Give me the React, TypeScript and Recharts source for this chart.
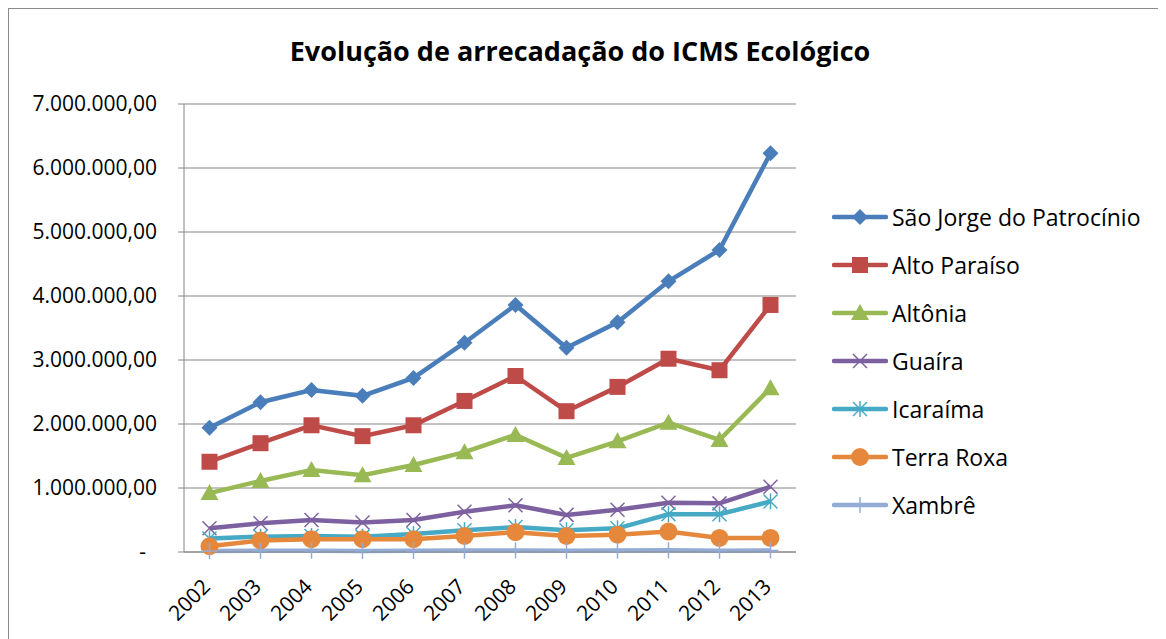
import React from 'react';
import { LineChart, Line, XAxis, YAxis, CartesianGrid } from 'recharts';

const years = ['2002', '2003', '2004', '2005', '2006', '2007', '2008', '2009', '2010', '2011', '2012', '2013'];

const saoJorge = [1940000, 2340000, 2530000, 2440000, 2720000, 3270000, 3860000, 3190000, 3590000, 4230000, 4720000, 6230000];
const altoParaiso = [1410000, 1700000, 1980000, 1810000, 1980000, 2360000, 2750000, 2200000, 2580000, 3020000, 2840000, 3860000];
const altonia = [920000, 1110000, 1280000, 1200000, 1360000, 1560000, 1830000, 1470000, 1730000, 2020000, 1750000, 2560000];
const guaira = [370000, 450000, 500000, 460000, 500000, 630000, 730000, 580000, 660000, 770000, 760000, 1020000];
const icaraima = [210000, 240000, 250000, 240000, 280000, 340000, 390000, 340000, 370000, 590000, 590000, 790000];
const terraRoxa = [90000, 180000, 200000, 200000, 200000, 250000, 310000, 250000, 270000, 320000, 220000, 220000];
const xambre = [15000, 18000, 20000, 17000, 18000, 22000, 25000, 20000, 22000, 26000, 20000, 24000];

const yTicks = [0, 1000000, 2000000, 3000000, 4000000, 5000000, 6000000, 7000000];
const boundaryTicks = [0, 1, 2, 3, 4, 5, 6, 7, 8, 9, 10, 11, 12];

type MarkerKind = 'diamond' | 'square' | 'triangle' | 'x' | 'star' | 'circle' | 'plus';

const series: { key: string; name: string; values: number[]; color: string; marker: MarkerKind }[] = [
  { key: 'saoJorge', name: 'São Jorge do Patrocínio', values: saoJorge, color: '#4A7EBB', marker: 'diamond' },
  { key: 'altoParaiso', name: 'Alto Paraíso', values: altoParaiso, color: '#BE4B48', marker: 'square' },
  { key: 'altonia', name: 'Altônia', values: altonia, color: '#98B954', marker: 'triangle' },
  { key: 'guaira', name: 'Guaíra', values: guaira, color: '#7D60A0', marker: 'x' },
  { key: 'icaraima', name: 'Icaraíma', values: icaraima, color: '#46AAC5', marker: 'star' },
  { key: 'terraRoxa', name: 'Terra Roxa', values: terraRoxa, color: '#E6883C', marker: 'circle' },
  { key: 'xambre', name: 'Xambrê', values: xambre, color: '#92ACD6', marker: 'plus' },
];

const data = years.map((year, i) => {
  const row: Record<string, string | number> = { year };
  series.forEach(s => { row[s.key] = s.values[i]; });
  return row;
});

const FONT = '"Open Sans", sans-serif';

function Marker({ kind, color, cx, cy }: { kind: MarkerKind; color: string; cx: number; cy: number }) {
  switch (kind) {
    case 'diamond':
      return <polygon points={`${cx},${cy - 8} ${cx + 8},${cy} ${cx},${cy + 8} ${cx - 8},${cy}`} fill={color} />;
    case 'square':
      return <rect x={cx - 8} y={cy - 8} width={16} height={16} fill={color} />;
    case 'triangle':
      return <polygon points={`${cx},${cy - 9} ${cx + 9},${cy + 7} ${cx - 9},${cy + 7}`} fill={color} />;
    case 'x':
      return (
        <g stroke={color} strokeWidth={1.5}>
          <line x1={cx - 7} y1={cy - 7} x2={cx + 7} y2={cy + 7} />
          <line x1={cx - 7} y1={cy + 7} x2={cx + 7} y2={cy - 7} />
        </g>
      );
    case 'star':
      return (
        <g stroke={color} strokeWidth={1.5}>
          <line x1={cx - 7} y1={cy - 7} x2={cx + 7} y2={cy + 7} />
          <line x1={cx - 7} y1={cy + 7} x2={cx + 7} y2={cy - 7} />
          <line x1={cx} y1={cy - 8} x2={cx} y2={cy + 8} />
        </g>
      );
    case 'circle':
      return <circle cx={cx} cy={cy} r={9} fill={color} />;
    case 'plus':
    default:
      return (
        <g stroke={color} strokeWidth={1.5}>
          <line x1={cx} y1={cy - 8} x2={cx} y2={cy + 8} />
          <line x1={cx - 8} y1={cy} x2={cx + 8} y2={cy} />
        </g>
      );
  }
}

const YTick = ({ x, y, payload }: any) => {
  const v = payload.value as number;
  const label = v === 0 ? '-' : v.toLocaleString('pt-BR', { minimumFractionDigits: 2 });
  return (
    <text x={v === 0 ? x - 30 : x - 19} y={y} dy={7} textAnchor="end" fontFamily={FONT} fontSize={21} fill="#000">
      {label}
    </text>
  );
};

const XTick = ({ x, y, payload }: any) => (
  <g transform={`translate(${x + 2},${y + 28})`}>
    <text transform="rotate(-45)" textAnchor="end" fontFamily={FONT} fontSize={21} fill="#000">
      {payload.value}
    </text>
  </g>
);

const NoTick = () => <g />;

export default function App() {
  return (
    <div style={{ position: 'relative', width: 1150, height: 640, border: '1px solid #8c8c8c', background: '#fff' }}>
      <div
        style={{
          position: 'absolute', left: 0, right: 0, top: 23, textAlign: 'center',
          fontFamily: FONT, fontWeight: 700, fontSize: 27, color: '#000', paddingRight: 8,
        }}
      >
        Evolução de arrecadação do ICMS Ecológico
      </div>
      <div style={{ position: 'absolute', left: 0, top: 0 }}>
        <LineChart width={1150} height={630} data={data} margin={{ top: 95, right: 363, bottom: 27, left: 0 }}>
          <CartesianGrid vertical={false} stroke="#868686" strokeWidth={1} />
          <XAxis
            xAxisId="bounds"
            type="number"
            domain={[0, 12]}
            ticks={boundaryTicks}
            tick={<NoTick />}
            axisLine={false}
            tickLine={{ stroke: '#868686' }}
            tickSize={6}
            height={0}
          />
          <XAxis
            dataKey="year"
            padding={{ left: 25.5, right: 25.5 }}
            axisLine={{ stroke: '#868686' }}
            tickLine={false}
            tick={<XTick />}
            interval={0}
            height={60}
          />
          <YAxis
            domain={[0, 7000000]}
            ticks={yTicks}
            width={175}
            axisLine={{ stroke: '#868686' }}
            tickLine={{ stroke: '#868686' }}
            tickSize={6}
            tick={<YTick />}
            interval={0}
          />
          {series.map(s => (
            <Line
              key={s.key}
              dataKey={s.key}
              name={s.name}
              stroke={s.color}
              strokeWidth={4.5}
              isAnimationActive={false}
              dot={(p: any) => <Marker key={`${s.key}-${p.index}`} kind={s.marker} color={s.color} cx={p.cx} cy={p.cy} />}
              activeDot={false}
            />
          ))}
        </LineChart>
      </div>
      <div style={{ position: 'absolute', left: 823, top: 184, fontFamily: FONT, fontSize: 23, color: '#000' }}>
        {series.map(s => (
          <div key={s.key} style={{ display: 'flex', alignItems: 'center', height: 48 }}>
            <svg width={56} height={20} style={{ marginRight: 4 }}>
              <line x1={2} y1={10} x2={54} y2={10} stroke={s.color} strokeWidth={4.5} strokeLinecap="round" />
              <Marker kind={s.marker} color={s.color} cx={28} cy={10} />
            </svg>
            <span>{s.name}</span>
          </div>
        ))}
      </div>
    </div>
  );
}
